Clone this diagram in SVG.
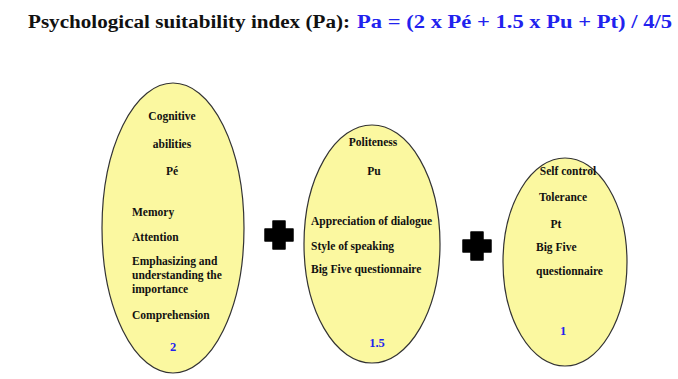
<svg xmlns="http://www.w3.org/2000/svg" width="678" height="379" viewBox="0 0 678 379">
<style>
.node{fill:#FBF8A0;stroke:#333;stroke-width:1.2}
.t{font-family:'Liberation Serif','Times New Roman',serif;font-weight:bold;font-size:11.5px;fill:#111}
.c{text-anchor:middle}
.num{font-family:'Liberation Serif','Times New Roman',serif;font-weight:bold;font-size:12.5px;fill:#2222ee;text-anchor:middle}
.ttl{font-family:'Liberation Serif','Times New Roman',serif;font-weight:bold;font-size:18px}
.plus{fill:#000;stroke:#000;stroke-width:1.5;stroke-linejoin:round}
</style>
<rect width="678" height="379" fill="#fff"/>
<text class="ttl" x="28" y="28" fill="#111" textLength="322" lengthAdjust="spacingAndGlyphs">Psychological suitability index (Pa):</text>
<text class="ttl" x="357" y="28" fill="#2222ee" textLength="315" lengthAdjust="spacingAndGlyphs">Pa = (2 x Pé + 1.5 x Pu + Pt) / 4/5</text>
<g id="cognitive">
<ellipse class="node" cx="173" cy="228" rx="71" ry="145"/>
<text class="t c" x="172" y="120">Cognitive</text>
<text class="t c" x="172" y="148">abilities</text>
<text class="t c" x="172" y="175">Pé</text>
<text class="t" x="132" y="216">Memory</text>
<text class="t" x="132" y="241">Attention</text>
<text class="t" x="132" y="265">Emphasizing and</text>
<text class="t" x="132" y="279">understanding the</text>
<text class="t" x="132" y="293">importance</text>
<text class="t" x="132" y="319">Comprehension</text>
<text class="num" x="173" y="351">2</text>
</g>
<g id="politeness">
<ellipse class="node" cx="372" cy="244" rx="68" ry="119"/>
<text class="t c" x="373" y="146">Politeness</text>
<text class="t c" x="374" y="175">Pu</text>
<text class="t" x="311" y="225">Appreciation of dialogue</text>
<text class="t" x="311" y="250">Style of speaking</text>
<text class="t" x="311" y="273">Big Five questionnaire</text>
<text class="num" x="377" y="347">1.5</text>
</g>
<g id="selfcontrol">
<ellipse class="node" cx="565" cy="262" rx="62" ry="104"/>
<text class="t c" x="568" y="175">Self control</text>
<text class="t c" x="563" y="201">Tolerance</text>
<text class="t c" x="556" y="228">Pt</text>
<text class="t" x="536" y="251">Big Five</text>
<text class="t" x="536" y="275">questionnaire</text>
<text class="num" x="563" y="335">1</text>
</g>
<g id="connectors">
<path class="plus" d="M273 221h12v8h8v12h-8v8h-12v-8h-8v-12h8z"/>
<path class="plus" d="M471 232h12v8h8v12h-8v8h-12v-8h-8v-12h8z"/>
</g>
</svg>
